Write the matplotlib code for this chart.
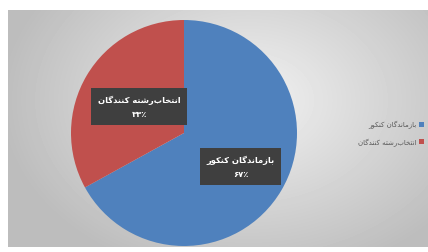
import matplotlib.pyplot as plt
import numpy as np

labels = ["بازماندگان کنکور", "انتخاب‌رشته کنندگان"]
values = [67, 33]
colors = ["#4f81bd", "#c0504d"]
label_dist = [0.58, 0.46]

# tiny arabic shaper: isolated, final, initial, medial
forms = {
    "ا": ("\uFE8D", "\uFE8E", None, None),
    "ب": ("\uFE8F", "\uFE90", "\uFE91", "\uFE92"),
    "ت": ("\uFE95", "\uFE96", "\uFE97", "\uFE98"),
    "خ": ("\uFEA5", "\uFEA6", "\uFEA7", "\uFEA8"),
    "د": ("\uFEA9", "\uFEAA", None, None),
    "ر": ("\uFEAD", "\uFEAE", None, None),
    "ز": ("\uFEAF", "\uFEB0", None, None),
    "ش": ("\uFEB5", "\uFEB6", "\uFEB7", "\uFEB8"),
    "م": ("\uFEE1", "\uFEE2", "\uFEE3", "\uFEE4"),
    "ن": ("\uFEE5", "\uFEE6", "\uFEE7", "\uFEE8"),
    "ه": ("\uFEE9", "\uFEEA", "\uFEEB", "\uFEEC"),
    "و": ("\uFEED", "\uFEEE", None, None),
    "ک": ("\uFB8E", "\uFB8F", "\uFB90", "\uFB91"),
    "گ": ("\uFB92", "\uFB93", "\uFB94", "\uFB95"),
}


def shape(s):
    out = []
    for i, c in enumerate(s):
        if c not in forms:
            out.append(c)
            continue
        prev = s[i - 1] if i > 0 else ""
        nxt = s[i + 1] if i + 1 < len(s) else ""
        jp = prev in forms and forms[prev][2] is not None
        jn = nxt in forms and forms[c][2] is not None
        iso, fin, ini, med = forms[c]
        out.append(med if jp and jn else fin if jp else ini if jn else iso)
    return "".join(out).replace("\u200c", "")[::-1]


def fa_num(n):
    return "".join("۰۱۲۳۴۵۶۷۸۹"[int(d)] for d in str(n))


plt.rcParams["font.family"] = ["DejaVu Sans"]
fig = plt.figure(figsize=(4.28, 2.53), dpi=100)
fig.patch.set_facecolor("white")

# gray radial background
bg = fig.add_axes([8 / 428, 5 / 253, 420 / 428, 237 / 253])
yy, xx = np.mgrid[0:237, 0:420]
r = np.sqrt(((xx - 240) / 260.0) ** 2 + ((yy - 90) / 190.0) ** 2)
shade = np.clip(0.95 - 0.22 * r, 0.74, 0.95)
bg.imshow(shade, cmap="gray", vmin=0, vmax=1, aspect="auto")
bg.axis("off")

ax = fig.add_axes([(184 - 113) / 428, (253 - 134 - 113) / 253, 226 / 428, 226 / 253])
wedges, _ = ax.pie(values, colors=colors, startangle=90, counterclock=False,
                   wedgeprops=dict(linewidth=0))
ax.set_xlim(-1, 1)
ax.set_ylim(-1, 1)

for w, lab, v, d in zip(wedges, labels, values, label_dist):
    ang = np.deg2rad((w.theta1 + w.theta2) / 2)
    ax.text(d * np.cos(ang), d * np.sin(ang), shape(lab) + "\n" + fa_num(v) + "٪",
            ha="center", va="center", color="white", fontsize=6, fontweight="bold",
            linespacing=1.7,
            bbox=dict(boxstyle="square,pad=0.8", fc="#3f3f3f", ec="none"))

leg = fig.legend(wedges, [shape(l) for l in labels], loc="center left",
                 bbox_to_anchor=(352 / 428, 1 - 134 / 253), frameon=False,
                 markerfirst=False, fontsize=5, handlelength=0.7, handleheight=0.7,
                 handletextpad=0.3, labelspacing=1.3, labelcolor="#595959")

fig.savefig("out.png", dpi=100)
